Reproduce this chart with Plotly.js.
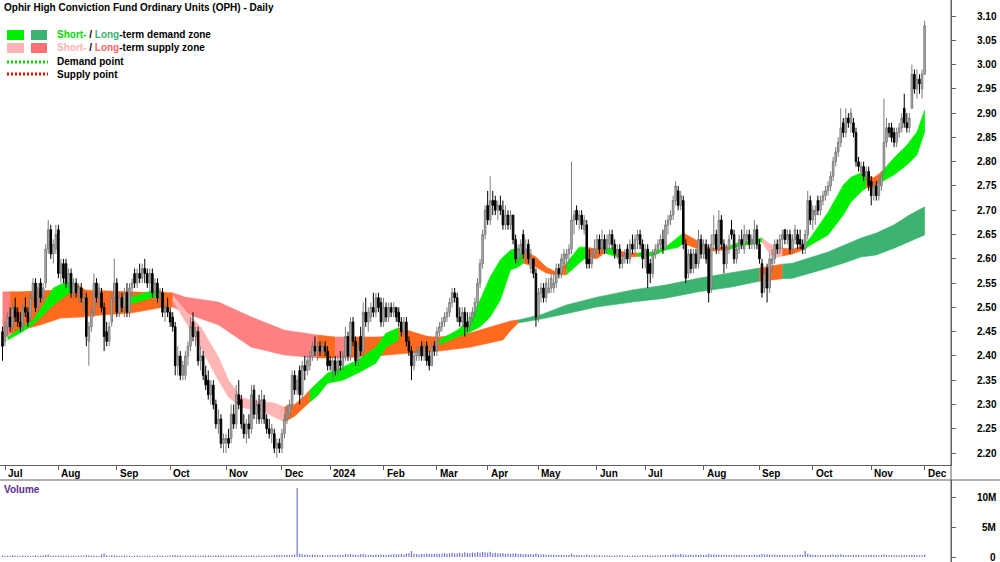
<!DOCTYPE html>
<html><head><meta charset="utf-8">
<script src="https://cdn.plot.ly/plotly-3.0.1.min.js"></script>
<style>html,body{margin:0;padding:0;background:#fff}#chart{width:1000px;height:562px}</style>
</head><body><div id="chart"></div>
<script>
// ---------------- DATA ----------------
const chartTitle = 'Ophir High Conviction Fund Ordinary Units (OPH) - Daily';
const firstTradingDay = '2023-06-30';
const asxHolidays = ['2023-12-25','2023-12-26','2024-01-01','2024-01-26','2024-03-29','2024-04-01','2024-04-25','2024-06-10'];
const monthNames = ['Jan','Feb','Mar','Apr','May','Jun','Jul','Aug','Sep','Oct','Nov','Dec'];

const open = [
2.45,2.43,2.46,2.48,2.46,2.50,2.49,2.47,2.46,2.50,2.49,2.48,2.52,2.55,2.50,2.55,2.52,2.55,2.62,2.66,2.61,2.62,
2.66,2.57,2.59,2.59,2.55,2.57,2.53,2.55,2.53,2.54,2.51,2.52,2.43,2.46,2.49,2.55,2.52,2.53,2.50,2.45,2.43,2.47,2.52,
2.55,2.49,2.52,2.50,2.53,2.49,2.54,2.57,2.55,2.57,2.56,2.58,2.57,2.55,2.57,2.53,2.55,2.52,2.53,2.49,2.50,
2.49,2.48,2.46,2.38,2.40,2.36,2.36,2.40,2.42,2.47,2.44,2.45,2.39,2.40,2.36,2.35,2.32,2.34,2.30,2.26,2.27,2.22,
2.22,2.23,2.23,2.28,2.26,2.32,2.31,2.26,2.24,2.26,2.25,2.33,2.28,2.30,2.27,2.31,2.27,2.25,2.24,2.24,2.21,2.22,
2.21,2.24,2.27,2.28,2.30,2.36,2.33,2.37,2.32,2.38,2.37,2.38,2.40,2.42,2.41,2.42,2.41,2.42,2.41,
2.39,2.37,2.39,2.37,2.39,2.38,2.40,2.44,2.40,2.47,2.43,2.39,2.44,2.41,2.49,2.47,2.48,2.50,2.49,2.52,2.51,
2.47,2.50,2.48,2.50,2.49,2.50,2.49,2.47,2.45,2.47,2.43,2.41,2.38,2.40,2.40,2.42,2.40,2.42,2.40,2.38,2.42,
2.41,2.45,2.46,2.47,2.48,2.49,2.51,2.53,2.52,2.48,2.47,2.49,2.47,2.46,2.48,2.49,2.51,2.55,2.59,2.65,
2.71,2.68,2.72,2.72,2.70,2.71,2.70,2.67,2.69,2.67,2.69,2.64,2.60,2.61,2.65,2.61,2.63,2.58,2.60,2.57,
2.48,2.53,2.54,2.52,2.53,2.54,2.54,2.55,2.58,2.57,2.59,2.60,2.61,2.62,2.68,2.70,2.68,2.69,2.66,2.67,2.60,2.59,2.61,
2.62,2.64,2.62,2.64,2.62,2.63,2.65,2.63,2.61,2.62,2.59,2.60,2.62,2.60,2.63,2.62,2.64,2.65,2.63,
2.60,2.62,2.59,2.57,2.61,2.62,2.63,2.64,2.62,2.67,2.68,2.69,2.72,2.74,2.71,2.72,2.63,2.57,2.61,2.58,2.61,2.59,2.64,
2.61,2.63,2.62,2.54,2.63,2.65,2.62,2.68,2.63,2.59,2.62,2.66,2.65,2.60,2.62,2.64,2.62,2.64,2.65,2.63,2.63,2.66,
2.63,2.59,2.54,2.58,2.54,2.59,2.60,2.63,2.62,2.64,2.66,2.64,2.65,2.62,2.64,2.65,2.64,2.63,2.62,2.65,2.72,
2.68,2.69,2.72,2.70,2.72,2.73,2.74,2.75,2.77,2.80,2.82,2.84,2.88,2.86,2.89,2.88,2.88,2.86,2.80,2.78,2.79,2.77,2.78,
2.76,2.73,2.75,2.73,2.75,2.78,2.84,2.87,2.87,2.86,2.84,2.86,2.87,2.91,2.88,2.87,2.91,2.98,2.95,2.97,2.95,
2.98];
const high = [
2.46,2.47,2.49,2.50,2.51,2.52,2.50,2.49,2.51,2.52,2.50,2.53,2.56,2.56,2.55,2.56,2.55,2.63,2.68,2.67,2.64,2.67,
2.67,2.60,2.60,2.60,2.58,2.58,2.56,2.56,2.55,2.55,2.53,2.53,2.47,2.50,2.57,2.56,2.55,2.54,2.51,2.47,2.47,2.53,2.60,
2.56,2.53,2.53,2.54,2.55,2.55,2.56,2.58,2.58,2.59,2.59,2.60,2.58,2.58,2.58,2.56,2.56,2.54,2.54,2.51,2.52,
2.50,2.49,2.47,2.42,2.41,2.39,2.41,2.43,2.48,2.49,2.46,2.46,2.42,2.41,2.38,2.37,2.35,2.35,2.31,2.29,2.28,2.24,
2.24,2.25,2.30,2.30,2.34,2.35,2.32,2.28,2.27,2.28,2.34,2.34,2.31,2.32,2.33,2.32,2.28,2.27,2.26,2.25,2.23,2.23,
2.25,2.28,2.30,2.31,2.37,2.37,2.36,2.38,2.39,2.40,2.40,2.41,2.43,2.44,2.43,2.43,2.43,2.43,2.42,
2.40,2.40,2.40,2.40,2.41,2.41,2.46,2.45,2.48,2.48,2.44,2.43,2.46,2.51,2.52,2.50,2.51,2.53,2.53,2.53,2.52,
2.52,2.51,2.51,2.51,2.51,2.50,2.50,2.48,2.48,2.48,2.44,2.42,2.41,2.42,2.42,2.43,2.43,2.43,2.41,2.43,2.43,
2.46,2.47,2.48,2.49,2.50,2.52,2.54,2.54,2.53,2.50,2.50,2.50,2.49,2.49,2.50,2.52,2.56,2.60,2.66,2.71,
2.74,2.77,2.74,2.73,2.72,2.73,2.72,2.71,2.70,2.70,2.69,2.65,2.63,2.64,2.66,2.64,2.64,2.62,2.60,2.58,
2.54,2.55,2.55,2.56,2.56,2.57,2.57,2.59,2.59,2.61,2.62,2.62,2.63,2.80,2.70,2.71,2.70,2.70,2.69,2.68,2.62,2.62,2.64,
2.65,2.65,2.66,2.65,2.65,2.66,2.66,2.64,2.63,2.63,2.61,2.62,2.63,2.64,2.65,2.65,2.66,2.66,2.64,
2.63,2.63,2.60,2.62,2.63,2.64,2.65,2.66,2.68,2.69,2.70,2.73,2.76,2.75,2.74,2.73,2.64,2.62,2.62,2.62,2.62,2.66,2.65,
2.64,2.64,2.63,2.65,2.69,2.66,2.70,2.69,2.64,2.63,2.65,2.68,2.66,2.63,2.65,2.66,2.67,2.66,2.66,2.65,2.68,2.67,
2.64,2.60,2.58,2.59,2.61,2.62,2.64,2.64,2.65,2.66,2.66,2.66,2.66,2.65,2.67,2.66,2.66,2.64,2.66,2.74,2.73,
2.71,2.71,2.73,2.73,2.74,2.75,2.76,2.78,2.81,2.83,2.85,2.91,2.89,2.91,2.90,2.91,2.89,2.87,2.81,2.80,2.80,2.79,2.79,
2.77,2.76,2.76,2.77,2.78,2.93,2.89,2.88,2.88,2.87,2.87,2.88,2.90,2.94,2.90,2.90,3.00,2.99,2.99,2.98,2.99,
3.09];
const low = [
2.39,2.42,2.44,2.45,2.45,2.47,2.46,2.45,2.45,2.48,2.46,2.47,2.51,2.49,2.49,2.51,2.51,2.54,2.61,2.60,2.59,2.61,
2.56,2.55,2.55,2.54,2.54,2.52,2.52,2.52,2.51,2.51,2.49,2.42,2.38,2.45,2.48,2.51,2.50,2.49,2.41,2.42,2.42,2.46,2.51,
2.48,2.48,2.49,2.48,2.48,2.48,2.52,2.54,2.54,2.55,2.55,2.55,2.54,2.53,2.52,2.52,2.51,2.50,2.48,2.47,2.48,
2.46,2.45,2.36,2.36,2.35,2.35,2.35,2.38,2.41,2.43,2.42,2.38,2.37,2.35,2.33,2.31,2.30,2.29,2.25,2.24,2.21,2.20,
2.20,2.21,2.22,2.25,2.25,2.29,2.25,2.23,2.22,2.23,2.24,2.27,2.26,2.26,2.26,2.26,2.24,2.23,2.22,2.20,2.19,2.20,
2.20,2.23,2.26,2.27,2.29,2.32,2.32,2.30,2.31,2.35,2.36,2.37,2.39,2.40,2.39,2.40,2.40,2.40,2.37,
2.37,2.35,2.36,2.36,2.37,2.37,2.39,2.39,2.39,2.42,2.38,2.38,2.40,2.40,2.46,2.45,2.47,2.48,2.48,2.49,2.46,
2.46,2.47,2.47,2.48,2.48,2.47,2.46,2.44,2.44,2.42,2.40,2.35,2.37,2.39,2.39,2.39,2.39,2.38,2.37,2.38,2.40,
2.40,2.44,2.45,2.46,2.47,2.48,2.50,2.51,2.47,2.46,2.46,2.44,2.45,2.45,2.47,2.48,2.50,2.54,2.58,2.64,
2.67,2.67,2.69,2.69,2.68,2.69,2.66,2.66,2.66,2.66,2.63,2.59,2.59,2.60,2.60,2.59,2.59,2.57,2.56,2.46,
2.47,2.51,2.51,2.51,2.53,2.53,2.53,2.54,2.56,2.56,2.58,2.58,2.59,2.61,2.65,2.67,2.66,2.66,2.65,2.58,2.58,2.58,2.60,
2.61,2.61,2.61,2.61,2.61,2.62,2.62,2.60,2.60,2.58,2.58,2.59,2.59,2.59,2.61,2.61,2.62,2.62,2.58,
2.58,2.54,2.55,2.56,2.60,2.61,2.62,2.61,2.62,2.65,2.67,2.68,2.71,2.70,2.70,2.62,2.55,2.56,2.57,2.57,2.58,2.58,2.60,
2.60,2.59,2.51,2.53,2.62,2.61,2.61,2.62,2.57,2.58,2.61,2.64,2.59,2.59,2.61,2.62,2.61,2.63,2.62,2.62,2.62,2.62,
2.59,2.52,2.53,2.51,2.53,2.57,2.59,2.61,2.61,2.62,2.63,2.63,2.61,2.61,2.63,2.62,2.62,2.61,2.61,2.64,2.67,
2.66,2.67,2.69,2.69,2.71,2.72,2.73,2.74,2.76,2.79,2.81,2.83,2.85,2.85,2.87,2.86,2.85,2.79,2.78,2.77,2.76,2.76,2.74,
2.71,2.72,2.72,2.72,2.74,2.77,2.83,2.85,2.84,2.83,2.83,2.85,2.86,2.87,2.86,2.86,2.91,2.94,2.93,2.94,2.93,
2.98];
const close = [
2.42,2.46,2.48,2.46,2.50,2.48,2.47,2.46,2.50,2.49,2.47,2.52,2.55,2.50,2.54,2.52,2.54,2.62,2.66,2.61,2.63,2.65,
2.57,2.59,2.56,2.55,2.57,2.53,2.55,2.53,2.54,2.52,2.52,2.44,2.46,2.49,2.55,2.52,2.54,2.50,2.44,2.43,2.46,2.52,2.55,
2.49,2.52,2.50,2.53,2.49,2.54,2.55,2.55,2.57,2.56,2.58,2.57,2.55,2.57,2.53,2.55,2.52,2.53,2.49,2.50,2.49,
2.47,2.46,2.38,2.40,2.36,2.38,2.40,2.42,2.46,2.44,2.45,2.39,2.40,2.36,2.34,2.32,2.34,2.30,2.26,2.27,2.22,2.23,
2.23,2.22,2.28,2.26,2.32,2.30,2.26,2.24,2.26,2.25,2.32,2.28,2.30,2.27,2.31,2.27,2.25,2.24,2.25,2.21,2.22,2.21,
2.24,2.27,2.29,2.30,2.36,2.33,2.35,2.32,2.38,2.37,2.39,2.40,2.42,2.41,2.42,2.41,2.42,2.41,2.38,
2.38,2.39,2.37,2.39,2.38,2.40,2.44,2.40,2.47,2.43,2.39,2.42,2.41,2.49,2.47,2.49,2.50,2.49,2.52,2.50,2.47,
2.50,2.48,2.50,2.49,2.50,2.48,2.47,2.45,2.47,2.43,2.41,2.38,2.40,2.41,2.41,2.40,2.42,2.39,2.38,2.42,2.41,
2.45,2.46,2.47,2.48,2.49,2.51,2.53,2.52,2.48,2.47,2.49,2.46,2.46,2.48,2.49,2.51,2.55,2.59,2.65,2.70,
2.68,2.72,2.71,2.70,2.71,2.70,2.67,2.69,2.67,2.69,2.64,2.60,2.62,2.63,2.61,2.62,2.60,2.60,2.57,2.48,
2.53,2.54,2.52,2.55,2.54,2.56,2.55,2.58,2.57,2.60,2.61,2.61,2.62,2.68,2.69,2.68,2.69,2.67,2.68,2.59,2.59,2.61,2.62,
2.64,2.62,2.64,2.62,2.64,2.65,2.63,2.61,2.62,2.59,2.60,2.61,2.60,2.63,2.62,2.64,2.65,2.63,2.60,
2.62,2.57,2.57,2.61,2.62,2.63,2.64,2.62,2.67,2.68,2.69,2.72,2.75,2.71,2.73,2.63,2.56,2.61,2.58,2.61,2.59,2.64,2.61,
2.63,2.60,2.53,2.63,2.65,2.62,2.68,2.63,2.59,2.62,2.64,2.65,2.60,2.62,2.64,2.63,2.65,2.65,2.63,2.64,2.66,2.63,
2.60,2.53,2.57,2.54,2.60,2.60,2.63,2.62,2.64,2.65,2.64,2.65,2.62,2.64,2.66,2.63,2.63,2.62,2.65,2.72,2.68,
2.70,2.70,2.70,2.72,2.73,2.74,2.75,2.77,2.80,2.82,2.84,2.87,2.86,2.89,2.88,2.90,2.86,2.80,2.79,2.79,2.77,2.78,2.75,
2.73,2.75,2.73,2.76,2.77,2.84,2.87,2.86,2.85,2.84,2.86,2.87,2.89,2.88,2.87,2.89,2.98,2.95,2.97,2.96,2.98,
3.08];
// volume, millions of units
const volume = [
0.25,0.20,0.18,0.22,0.30,0.21,0.19,0.17,0.24,0.20,0.26,0.18,0.23,0.28,0.21,0.19,0.25,0.32,0.40,0.27,0.22,0.20,
0.24,0.19,0.21,0.26,0.18,0.23,0.20,0.17,0.22,0.25,0.19,0.35,0.30,0.21,0.24,0.18,0.22,0.45,0.60,0.28,0.22,0.26,0.30,
0.21,0.18,0.20,0.23,0.19,0.22,0.17,0.20,0.24,0.18,0.21,0.19,0.23,0.20,0.18,0.22,0.25,0.19,0.21,0.17,0.20,
0.24,0.28,0.35,0.26,0.30,0.22,0.25,0.21,0.29,0.24,0.20,0.27,0.23,0.26,0.22,0.28,0.24,0.21,0.30,0.25,0.27,0.23,
0.26,0.22,0.28,0.24,0.30,0.21,0.25,0.23,0.27,0.22,0.29,0.24,0.20,0.26,0.23,0.28,0.25,0.22,0.27,0.31,0.35,0.29,
0.33,0.30,0.38,0.32,0.36,0.42,11.6,0.55,0.45,0.38,0.40,0.35,0.42,0.36,0.30,0.28,0.33,0.25,0.31,
0.30,0.36,0.28,0.33,0.29,0.38,0.45,0.40,0.50,0.42,0.37,0.33,0.48,0.55,0.40,0.35,0.38,0.32,0.44,0.36,0.41,
0.37,0.34,0.42,0.38,0.45,0.40,0.48,0.52,0.44,0.60,0.65,1.00,0.55,0.47,0.42,0.50,0.46,0.58,0.52,0.49,0.55,
0.60,0.52,0.58,0.66,0.54,0.62,0.70,0.58,0.64,0.72,0.60,0.80,0.68,0.62,0.75,0.66,0.82,0.70,0.85,0.78,
0.72,0.88,0.65,0.70,0.62,0.58,0.66,0.55,0.60,0.52,0.58,0.64,0.50,0.55,0.48,0.52,0.46,0.50,0.44,0.62,
0.45,0.40,0.44,0.38,0.42,0.36,0.40,0.35,0.38,0.33,0.36,0.30,0.34,0.55,0.36,0.30,0.33,0.28,0.31,0.40,0.29,0.27,0.30,
0.26,0.29,0.25,0.28,0.24,0.27,0.23,0.26,0.25,0.30,0.24,0.22,0.27,0.23,0.26,0.24,0.22,0.25,0.28,
0.24,0.32,0.27,0.23,0.26,0.24,0.28,0.25,0.35,0.30,0.33,0.45,0.40,0.36,0.50,0.42,0.38,0.32,0.36,0.30,0.40,0.34,0.37,
0.33,0.38,0.55,0.42,0.45,0.36,0.40,0.34,0.44,0.35,0.38,0.32,0.40,0.34,0.37,0.30,0.35,0.31,0.33,0.29,0.36,0.32,
0.38,0.50,0.42,0.45,0.40,0.36,0.42,0.34,0.38,0.33,0.36,0.31,0.35,0.30,0.34,0.29,0.40,0.35,1.00,0.55,0.40,
0.36,0.33,0.30,0.34,0.31,0.29,0.33,0.36,0.40,0.35,0.38,0.45,0.36,0.33,0.30,0.34,0.31,0.38,0.33,0.30,0.28,0.32,0.35,
0.38,0.32,0.30,0.28,0.33,0.45,0.36,0.31,0.29,0.33,0.30,0.27,0.31,0.35,0.30,0.28,0.38,0.32,0.30,0.27,0.29,
0.40];

// short-term zone edges (trading-day index, upper, lower, state D=demand S=supply T=tested)
const stIdx = [2,7,12,16,20,24,27,29,31,35,42,49,53,56,60,62,67,72,78,85,89,94,98,103,107,111,115,119,121,124,128,134,140,147,151,156,163,168,172,179,184,188,192,196,200,203,205,210,214,218,222,227,230,234,237,242,246,250,256,261,266,268,273,277,280,286,290,296,299,302,304,307,311,315,318,325,331,334,338,340,343,346,351,356,360,363];
const stUpper = [2.439,2.457,2.474,2.505,2.540,2.550,2.552,2.546,2.542,2.525,2.515,2.519,2.525,2.530,2.536,2.534,2.525,2.493,2.460,2.398,2.350,2.315,2.309,2.305,2.303,2.295,2.300,2.318,2.330,2.345,2.365,2.377,2.392,2.418,2.447,2.458,2.447,2.440,2.433,2.453,2.474,2.515,2.563,2.598,2.618,2.622,2.618,2.604,2.583,2.573,2.591,2.624,2.624,2.620,2.624,2.618,2.612,2.612,2.614,2.624,2.645,2.653,2.639,2.624,2.622,2.626,2.634,2.639,2.643,2.631,2.626,2.622,2.620,2.626,2.643,2.696,2.752,2.768,2.777,2.773,2.767,2.779,2.808,2.834,2.861,2.906];
const stLower = [2.433,2.447,2.464,2.484,2.505,2.521,2.532,2.532,2.530,2.500,2.492,2.505,2.510,2.515,2.521,2.520,2.515,2.470,2.418,2.350,2.315,2.295,2.289,2.285,2.274,2.264,2.276,2.295,2.305,2.318,2.344,2.350,2.365,2.385,2.418,2.433,2.423,2.425,2.423,2.439,2.449,2.460,2.480,2.515,2.577,2.583,2.591,2.583,2.571,2.567,2.567,2.591,2.604,2.600,2.612,2.604,2.604,2.605,2.606,2.618,2.624,2.632,2.622,2.618,2.616,2.619,2.626,2.631,2.635,2.610,2.602,2.606,2.610,2.618,2.628,2.649,2.690,2.717,2.738,2.746,2.746,2.758,2.773,2.793,2.814,2.861];
const stState = 'DDDDDDDTTTTDDDDTSSSSSSSSSTTTDDDDDDDTTTDDDDDDDDTTTTDDTTDTTDDDDTTTTDDDSSSTTDDDDDDTTDDDDD'.split('');

// long-term zone edges
const ltIdx = [0,3,7,15,23,31,38,50,62,67,72,85,98,111,124,131,137,147,158,172,184,197,200,203,212,222,234,248,261,274,287,298,307,311,325,331,338,344,351,357,363];
const ltUpper = [2.532,2.532,2.532,2.534,2.536,2.536,2.534,2.532,2.530,2.530,2.521,2.511,2.480,2.453,2.443,2.439,2.439,2.439,2.441,2.439,2.447,2.468,2.472,2.474,2.485,2.505,2.521,2.536,2.546,2.560,2.571,2.581,2.589,2.591,2.614,2.628,2.643,2.653,2.670,2.690,2.707];
const ltLower = [2.433,2.445,2.453,2.464,2.478,2.480,2.484,2.488,2.499,2.501,2.488,2.464,2.418,2.402,2.396,2.396,2.397,2.400,2.405,2.410,2.418,2.433,2.452,2.468,2.476,2.487,2.501,2.511,2.519,2.532,2.542,2.554,2.559,2.560,2.581,2.591,2.604,2.608,2.622,2.635,2.649];
const ltState = ('S'+'TTTTTTTT'+'SSSSS'+'T'+'S'+'TTTTTTT'+'DDDDDDDD'+'T'+'DDDDDDDDD').split('');

const priceTicks = [2.20,2.25,2.30,2.35,2.40,2.45,2.50,2.55,2.60,2.65,2.70,2.75,2.80,2.85,2.90,2.95,3.00,3.05,3.10];
const volumeTicks = [0,5,10];
const volumeTickText = ['0','5M','10M'];

// ---------------- CHECKS ----------------
const n = close.length;
[['open',open],['high',high],['low',low],['volume',volume]].forEach(([k,a])=>{ if(a.length!==n) throw new Error('length '+k+' '+a.length+' vs '+n); });
[['stUpper',stUpper],['stLower',stLower],['stState',stState]].forEach(([k,a])=>{ if(a.length!==stIdx.length) throw new Error('length '+k+' '+a.length+' vs '+stIdx.length); });
[['ltUpper',ltUpper],['ltLower',ltLower],['ltState',ltState]].forEach(([k,a])=>{ if(a.length!==ltIdx.length) throw new Error('length '+k+' '+a.length+' vs '+ltIdx.length); });

// trading calendar
const dates = [];
{ const p = firstTradingDay.split('-').map(Number); const d = new Date(Date.UTC(p[0],p[1]-1,p[2]));
  while (dates.length < n) { const iso = d.toISOString().slice(0,10); const wd = d.getUTCDay();
    if (wd!==0 && wd!==6 && !asxHolidays.includes(iso)) dates.push(iso); d.setUTCDate(d.getUTCDate()+1); } }
const xi = dates.map((_,i)=>i);
const tickIdx = [], tickText = [];
for (let i=1;i<n;i++){ if (dates[i].slice(5,7)!==dates[i-1].slice(5,7)) { tickIdx.push(i); const m=+dates[i].slice(5,7); tickText.push(m===1?dates[i].slice(0,4):monthNames[m-1]); } }

// ---------------- STYLE ----------------
const FONT = 'Liberation Sans, Arial, Helvetica, sans-serif';
const W = 1000, H = 562, PW = 951;
const px = x => x/PW, py = y => (H-y)/H;
const shortColors = {D:'#00ee00', S:'#ffb5b5', T:'#ff6a1e'};
const longColors  = {D:'#3cb371', S:'#ff8080', T:'#ff6a1e'};
const xRange = [-0.984, 373.4];

function zoneTraces(idx, up, lo, state, colors){
  const out=[]; let s=0;
  for (let k=1;k<idx.length;k++){
    if (k===idx.length-1 || state[k]!==state[s]){
      const xs=[], ys=[];
      for (let j=s;j<=k;j++){ xs.push(idx[j]); ys.push(up[j]); }
      for (let j=k;j>=s;j--){ xs.push(idx[j]); ys.push(lo[j]); }
      const c = colors[state[s]];
      out.push({type:'scatter', mode:'lines', x:xs, y:ys, fill:'toself', fillcolor:c,
        line:{width:0.6, color:c, shape:'linear'}, hoverinfo:'skip', xaxis:'x', yaxis:'y'});
      s=k;
    }
  }
  return out;
}

const traces = [];
traces.push(...zoneTraces(ltIdx, ltUpper, ltLower, ltState, longColors));
traces.push(...zoneTraces(stIdx, stUpper, stLower, stState, shortColors));
traces.push({type:'candlestick', x:xi, open:open, high:high, low:low, close:close, xaxis:'x3', yaxis:'y3',
  increasing:{line:{color:'#7c7c7c', width:1}, fillcolor:'#bdbdbd'},
  decreasing:{line:{color:'#000000', width:1}, fillcolor:'#000000'},
  whiskerwidth:0, hoverinfo:'skip'});
traces.push({type:'bar', x:xi, y:volume, xaxis:'x2', yaxis:'y2', width:0.45,
  marker:{color:'#6c6cd6', line:{width:0}}, hoverinfo:'skip'});

const bold = s => '<b>'+s+'</b>';
const annFont = {family:FONT, size:10, color:'#000'};
const annotations = [
  {xref:'paper', yref:'paper', x:px(2), y:py(7), xanchor:'left', yanchor:'middle', text:bold(chartTitle), showarrow:false, font:annFont},
  {xref:'paper', yref:'paper', x:px(55), y:py(35), xanchor:'left', yanchor:'middle', showarrow:false, font:annFont,
   text:bold('<span style="color:#00e000">Short-</span> / <span style="color:#3cb371">Long</span>-term demand zone')},
  {xref:'paper', yref:'paper', x:px(55), y:py(48), xanchor:'left', yanchor:'middle', showarrow:false, font:annFont,
   text:bold('<span style="color:#ffb0b0">Short-</span> / <span style="color:#ff6464">Long</span>-term supply zone')},
  {xref:'paper', yref:'paper', x:px(55), y:py(62), xanchor:'left', yanchor:'middle', showarrow:false, font:annFont, text:bold('Demand point')},
  {xref:'paper', yref:'paper', x:px(55), y:py(74), xanchor:'left', yanchor:'middle', showarrow:false, font:annFont, text:bold('Supply point')},
  {xref:'paper', yref:'paper', x:px(2), y:py(489), xanchor:'left', yanchor:'middle', showarrow:false,
   font:{family:FONT, size:10, color:'#5a2a90'}, text:bold('Volume')}
];
tickIdx.forEach((t,k)=>annotations.push({xref:'x', yref:'paper', x:t, y:py(473), xanchor:'left', yanchor:'middle', xshift:1,
  showarrow:false, font:annFont, text:bold(tickText[k])}));
volumeTicks.forEach((v,k)=>annotations.push({xref:'paper', yref:'y2', x:px(998), y:v, xanchor:'right', yanchor:'middle',
  showarrow:false, font:annFont, text:bold(volumeTickText[k])}));

const shapes = [
  {type:'line', xref:'paper', yref:'paper', x0:0, x1:px(1000), y0:py(480), y1:py(480), line:{color:'#606060', width:1}},
  {type:'line', xref:'paper', yref:'paper', x0:1, x1:1, y0:0, y1:1, line:{color:'#606060', width:1}},
  {type:'rect', xref:'paper', yref:'paper', x0:px(7), x1:px(24), y0:py(40), y1:py(30), fillcolor:shortColors.D, line:{width:0}},
  {type:'rect', xref:'paper', yref:'paper', x0:px(31), x1:px(47), y0:py(40), y1:py(30), fillcolor:longColors.D, line:{width:0}},
  {type:'rect', xref:'paper', yref:'paper', x0:px(7), x1:px(24), y0:py(53), y1:py(43), fillcolor:shortColors.S, line:{width:0}},
  {type:'rect', xref:'paper', yref:'paper', x0:px(31), x1:px(47), y0:py(53), y1:py(43), fillcolor:'#ff7070', line:{width:0}},
  {type:'line', xref:'paper', yref:'paper', x0:px(7), x1:px(48), y0:py(62), y1:py(62), line:{color:'#00dd00', width:3, dash:'2px,2px'}},
  {type:'line', xref:'paper', yref:'paper', x0:px(7), x1:px(48), y0:py(74), y1:py(74), line:{color:'#ff0000', width:3, dash:'2px,2px'}}
];

const layout = {
  width:W, height:H, margin:{l:0, r:W-PW, t:0, b:0}, paper_bgcolor:'#ffffff', plot_bgcolor:'#ffffff',
  showlegend:false, dragmode:false, boxgap:0.12,
  font:{family:FONT, size:10, color:'#000'},
  xaxis:{domain:[0,1], range:xRange, anchor:'y', showgrid:false, zeroline:false, showline:true, linecolor:'#606060', linewidth:1,
    ticks:'outside', ticklen:4, tickcolor:'#606060', tickvals:tickIdx, showticklabels:false, fixedrange:true, rangeslider:{visible:false}},
  yaxis:{domain:[py(465),1], range:[2.1754,3.133], anchor:'x', side:'right', showgrid:false, zeroline:false,
    showline:true, linecolor:'#606060', linewidth:1, ticks:'outside', ticklen:4, tickcolor:'#606060',
    tickvals:priceTicks, ticktext:priceTicks.map(v=>bold(v.toFixed(2))), tickfont:{family:FONT, size:10, color:'#000'},
    ticklabelstandoff:19, fixedrange:true},
  xaxis2:{domain:[0,1], range:xRange, anchor:'y2', showgrid:false, zeroline:false, showline:false, showticklabels:false, ticks:'', fixedrange:true},
  yaxis2:{domain:[0,py(480)], range:[-0.842,12.963], anchor:'x2', side:'right', showgrid:false, zeroline:false,
    showline:true, linecolor:'#606060', ticks:'outside', ticklen:4, tickcolor:'#606060', tickvals:volumeTicks, showticklabels:false, fixedrange:true},
  xaxis3:{overlaying:'x', range:xRange, anchor:'y3', visible:false, showgrid:false, zeroline:false, fixedrange:true, rangeslider:{visible:false}},
  yaxis3:{overlaying:'y', range:[2.1754,3.133], anchor:'x3', visible:false, showgrid:false, zeroline:false, fixedrange:true},
  annotations:annotations, shapes:shapes
};

Plotly.newPlot('chart', traces, layout, {displayModeBar:false, staticPlot:true});
</script>
</body></html>
